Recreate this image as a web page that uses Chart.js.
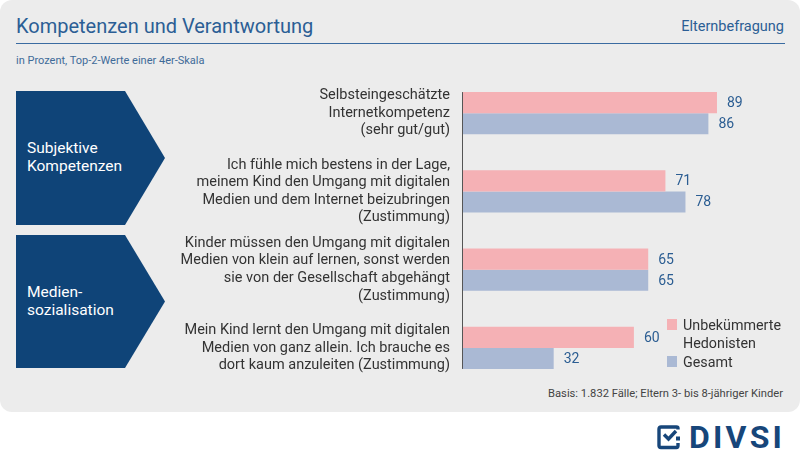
<!DOCTYPE html>
<html>
<head>
<meta charset="utf-8">
<script src="https://cdn.jsdelivr.net/npm/chart.js@4.4.1/dist/chart.umd.min.js"></script>
<style>
  body { margin:0; background:#ffffff; }
  #wrap { position:relative; width:800px; height:463px; overflow:hidden; font-family:Roboto, "Noto Sans", sans-serif; }
  .abs { position:absolute; white-space:nowrap; line-height:1; }
  #panel { position:absolute; left:0; top:0; width:800px; height:412px; background:#ececec; border-radius:12px; }
  .block { position:absolute; left:16px; width:149px; background:#0f4478; clip-path:polygon(0 0, 109px 0, 149px 50%, 109px 100%, 0 100%); }
  .blocktxt { position:absolute; left:11px; color:#ffffff; font-size:15.5px; line-height:18px; white-space:nowrap; }
  canvas { position:absolute; left:0; top:0; }
</style>
</head>
<body>
<div id="wrap">
  <div id="panel"></div>
  <div class="abs" id="title" style="left:16px; top:15.5px; font-size:20px; color:#2b5e95;">Kompetenzen und Verantwortung</div>
  <div class="abs" id="kopf" style="right:16px; top:20px; font-size:14.5px; color:#2b5e95;">Elternbefragung</div>
  <div style="position:absolute; left:16px; top:42.5px; width:769px; height:1.5px; background:#3a6ba1;"></div>
  <div class="abs" id="sub" style="left:16px; top:54.5px; font-size:11px; color:#3f6b99;">in Prozent, Top-2-Werte einer 4er-Skala</div>
  <div class="block" style="top:91px; height:134px;"><div class="blocktxt" id="g1" style="top:48px;"></div></div>
  <div class="block" style="top:235px; height:133px;"><div class="blocktxt" id="g2" style="top:48px;"></div></div>
  <div class="abs" id="basis" style="right:17px; top:387.5px; font-size:11.2px; color:#444444;">Basis: 1.832 Fälle; Eltern 3- bis 8-jähriger Kinder</div>
  <svg style="position:absolute; left:656px; top:424px;" width="28" height="28" viewBox="0 0 28 28">
    <path d="M22 5.5 V4.5 Q22 3 20.5 3 H5 Q3 3 3 5 V21.5 Q3 23.5 5 23.5 H20.5 Q22 23.5 22 21.5 V19" fill="none" stroke="#17467a" stroke-width="3.4"/>
    <path d="M8 10.5 L12.5 15 L20 7" fill="none" stroke="#17467a" stroke-width="3.4"/>
    <rect x="20" y="12.5" width="4" height="4" fill="#17467a"/>
  </svg>
  <div class="abs" id="logo" style="left:689px; top:421px; font-size:32px; font-weight:bold; letter-spacing:3.2px; color:#17467a;">DIVSI</div>
  <canvas id="c" width="800" height="463" style="width:800px;height:463px;"></canvas>
</div>
<script>
// ---- data ----
const categories = [
  ["Selbsteingeschätzte", "Internetkompetenz", "(sehr gut/gut)"],
  ["Ich fühle mich bestens in der Lage,", "meinem Kind den Umgang mit digitalen", "Medien und dem Internet beizubringen", "(Zustimmung)"],
  ["Kinder müssen den Umgang mit digitalen", "Medien von klein auf lernen, sonst werden", "sie von der Gesellschaft abgehängt", "(Zustimmung)"],
  ["Mein Kind lernt den Umgang mit digitalen", "Medien von ganz allein. Ich brauche es", "dort kaum anzuleiten (Zustimmung)"]
];
const hedonisten = [89, 71, 65, 60];
const gesamt = [86, 78, 65, 32];
const seriesNames = ["Unbekümmerte Hedonisten", "Gesamt"];
const legendLines = [["Unbekümmerte", "Hedonisten"], ["Gesamt"]];
const groupLabels = [["Subjektive", "Kompetenzen"], ["Medien-", "sozialisation"]];

document.getElementById('g1').innerHTML = groupLabels[0].join('<br>');
document.getElementById('g2').innerHTML = groupLabels[1].join('<br>');

const COL_PINK = '#f5b1b5';
const COL_BLUE = '#aab9d4';
const FONT = 'Roboto, "Noto Sans", sans-serif';

const valueLabels = {
  id: 'valueLabels',
  afterDatasetsDraw(chart) {
    const ctx = chart.ctx;
    ctx.save();
    ctx.font = '14px ' + FONT;
    ctx.fillStyle = '#2b5d92';
    ctx.textBaseline = 'middle';
    ctx.textAlign = 'left';
    chart.data.datasets.forEach((ds, di) => {
      chart.getDatasetMeta(di).data.forEach((bar, i) => {
        ctx.fillText(String(ds.data[i]), bar.x + 10, bar.y + 1);
      });
    });
    ctx.restore();
  }
};

const axisLine = {
  id: 'axisLine',
  afterDatasetsDraw(chart) {
    const ctx = chart.ctx;
    const first = chart.getDatasetMeta(0).data[0];
    const last = chart.getDatasetMeta(1).data[chart.data.labels.length - 1];
    const x = Math.round(chart.scales.x.getPixelForValue(0)) + 0.5;
    ctx.save();
    ctx.strokeStyle = '#555555';
    ctx.lineWidth = 1;
    ctx.beginPath();
    ctx.moveTo(x, first.y - first.height / 2);
    ctx.lineTo(x, last.y + last.height / 2);
    ctx.stroke();
    ctx.restore();
  }
};

const customLegend = {
  id: 'customLegend',
  afterDraw(chart) {
    const ctx = chart.ctx;
    ctx.save();
    ctx.font = '14.3px ' + FONT;
    ctx.textBaseline = 'alphabetic';
    const startY = [319, 356];
    chart.data.datasets.forEach((ds, di) => {
      ctx.fillStyle = ds.backgroundColor;
      ctx.fillRect(667, startY[di], 10, 11);
      ctx.fillStyle = '#333333';
      legendLines[di].forEach((line, li) => {
        ctx.fillText(line, 683, startY[di] + 11 + li * 18);
      });
    });
    ctx.restore();
  }
};

new Chart(document.getElementById('c'), {
  type: 'bar',
  data: {
    labels: categories,
    datasets: [
      { label: seriesNames[0], data: hedonisten, backgroundColor: COL_PINK, categoryPercentage: 0.537, barPercentage: 1.0 },
      { label: seriesNames[1], data: gesamt, backgroundColor: COL_BLUE, categoryPercentage: 0.537, barPercentage: 1.0 }
    ]
  },
  options: {
    indexAxis: 'y',
    responsive: false,
    animation: false,
    devicePixelRatio: 1,
    layout: { padding: { top: 74, bottom: 76, left: 0, right: 51.5 } },
    plugins: { legend: { display: false }, tooltip: { enabled: false } },
    scales: {
      x: { min: 0, max: 100, display: false },
      y: {
        grid: { display: false, drawTicks: false },
        border: { display: false },
        ticks: { color: '#333333', font: { family: FONT, size: 14.5, lineHeight: 1.21 }, padding: 12, autoSkip: false },
        afterFit(scale) { scale.width = 462; }
      }
    }
  },
  plugins: [valueLabels, axisLine, customLegend]
});
</script>
</body>
</html>
